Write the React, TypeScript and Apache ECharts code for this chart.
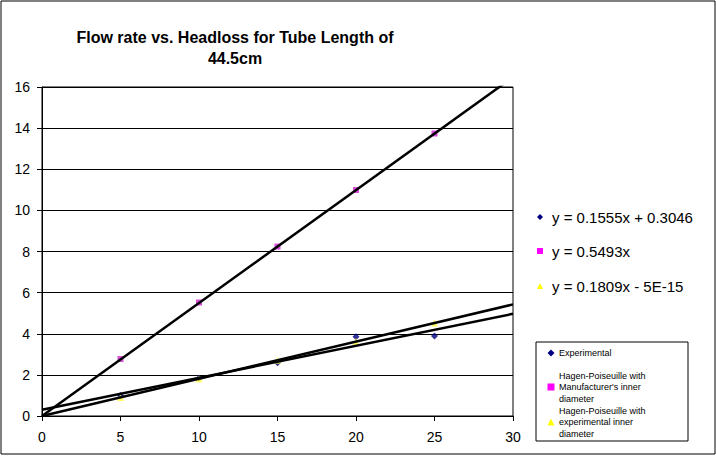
import React, { useEffect, useRef } from "react";
import * as echarts from "echarts";

const xValues = [5, 10, 15, 20, 25];
const experimental = [1.0, 1.84, 2.59, 3.86, 3.89];
const manufacturer = [2.77, 5.52, 8.24, 10.99, 13.74];
const expDiameter = [0.9, 1.81, 2.71, 3.62, 4.52];

const seriesNames = [
  "Experimental",
  "Hagen-Poiseuille with\nManufacturer's inner\ndiameter",
  "Hagen-Poiseuille with\nexperimental inner\ndiameter",
];
const equations = ["y = 0.1555x + 0.3046", "y = 0.5493x", "y = 0.1809x - 5E-15"];
const slopes = [0.1555, 0.5493, 0.1809];
const intercepts = [0.3046, 0, -5e-15];
const trendRange = [0, 30];

const xTicks = { min: 0, max: 30, interval: 5 };
const yTicks = { min: 0, max: 16, interval: 2 };

const colors = ["#000080", "#FF00FF", "#FFFF00"];
const pointColors = ["#000080", "#D020D0", "#FFFF40"];
const symbols = ["diamond", "rect", "triangle"];
const symbolSizes = [7, 6, 7];

export default function App() {
  const ref = useRef<HTMLDivElement>(null);
  useEffect(() => {
    document.body.style.margin = "0";
    if (!ref.current) return;
    const chart = echarts.init(ref.current, undefined, { renderer: "svg" });
    const dataSets = [experimental, manufacturer, expDiameter];
    const scatter = dataSets.map((ds, i) => ({
      type: "scatter",
      name: seriesNames[i],
      data: xValues.map((x, j) => [x, ds[j]]),
      symbol: symbols[i],
      symbolSize: symbolSizes[i],
      itemStyle: { color: pointColors[i] },
      z: 2,
    }));
    const trends = slopes.map((m, i) => ({
      type: "line",
      data: trendRange.map((x) => [x, m * x + intercepts[i]]),
      symbol: "none",
      lineStyle: { color: "#000", width: 2.5 },
      clip: true,
      z: 3,
      silent: true,
    }));

    const font = "Arial, 'Liberation Sans', sans-serif";
    const eqY = [217, 251, 286];
    const legY = [353, 387, 422];
    const graphic: any[] = [
      {
        type: "rect",
        shape: { x: 1, y: 1, width: 714, height: 453 },
        style: { fill: "none", stroke: "#000", lineWidth: 1 },
        silent: true,
      },
      {
        type: "text",
        x: 235,
        y: 48,
        style: {
          text: "Flow rate vs. Headloss for Tube Length of\n44.5cm",
          font: `bold 16px ${font}`,
          fill: "#000",
          align: "center",
          verticalAlign: "middle",
          lineHeight: 21,
        },
      },
      {
        type: "rect",
        shape: { x: 536, y: 342, width: 152, height: 99 },
        style: { fill: "#fff", stroke: "#000", lineWidth: 1 },
      },
    ];
    const markerShape = (i: number, cx: number, cy: number, s: number) => {
      if (i === 0)
        return {
          type: "polygon",
          shape: { points: [[cx, cy - s / 2], [cx + s / 2, cy], [cx, cy + s / 2], [cx - s / 2, cy]] },
          style: { fill: colors[i] },
        };
      if (i === 1)
        return {
          type: "rect",
          shape: { x: cx - s / 2, y: cy - s / 2, width: s, height: s },
          style: { fill: colors[i] },
        };
      return {
        type: "polygon",
        shape: { points: [[cx, cy - s / 2], [cx + s / 2, cy + s / 2], [cx - s / 2, cy + s / 2]] },
        style: { fill: colors[i] },
      };
    };
    equations.forEach((eq, i) => {
      graphic.push(markerShape(i, 540, eqY[i], 6));
      graphic.push({
        type: "text",
        x: 552,
        y: eqY[i],
        style: {
          text: eq,
          font: `15px ${font}`,
          fill: "#000",
          align: "left",
          verticalAlign: "middle",
        },
      });
    });
    seriesNames.forEach((nm, i) => {
      graphic.push(markerShape(i, 551, legY[i], 7));
      graphic.push({
        type: "text",
        x: 559,
        y: legY[i],
        style: {
          text: nm,
          font: `9px ${font}`,
          fill: "#000",
          align: "left",
          verticalAlign: "middle",
          lineHeight: 11.5,
        },
      });
    });

    chart.setOption({
      animation: false,
      backgroundColor: "#fff",
      grid: {
        left: 42,
        right: 203,
        top: 87,
        bottom: 41,
        show: true,
        borderColor: "#000",
        borderWidth: 1,
        backgroundColor: "transparent",
      },
      xAxis: {
        type: "value",
        ...xTicks,
        axisLine: { show: true, onZero: false, lineStyle: { color: "#000", width: 1 } },
        axisTick: { show: true, inside: false, length: 5, lineStyle: { color: "#000" } },
        axisLabel: { color: "#000", fontSize: 14, fontFamily: font, margin: 14 },
        splitLine: { show: false },
      },
      yAxis: {
        type: "value",
        ...yTicks,
        axisLine: { show: true, onZero: false, lineStyle: { color: "#000", width: 1 } },
        axisTick: { show: true, inside: false, length: 5, lineStyle: { color: "#000" } },
        axisLabel: { color: "#000", fontSize: 14, fontFamily: font, margin: 12 },
        splitLine: { show: true, lineStyle: { color: "#000", width: 1 } },
      },
      series: [...scatter, ...trends],
      graphic,
    });
    return () => chart.dispose();
  }, []);
  return <div ref={ref} style={{ width: 716, height: 457 }} />;
}
